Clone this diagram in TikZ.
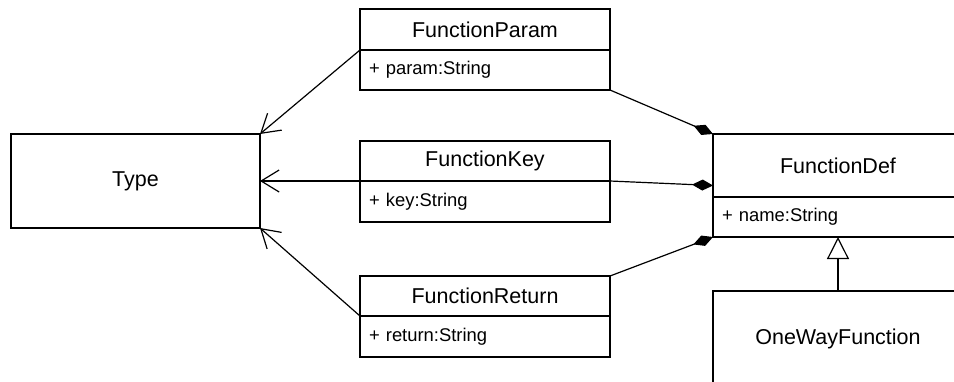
\documentclass[tikz,border=0pt]{standalone}
\usepackage{fontspec}
\setmainfont{Liberation Sans}
\usetikzlibrary{arrows.meta,calc}

\tikzset{
  box/.style={draw=black, line width=1.3pt, fill=white, inner sep=0pt, outer sep=0pt},
  title/.style={box, minimum width=250pt, font=\fontsize{21.5}{25}\selectfont},
  attr/.style={box, minimum width=250pt, text width=232pt, inner xsep=9pt, align=left,
    font=\fontsize{18.4}{22}\selectfont},
  link/.style={draw=black, line width=1.2pt},
  uses/.style={link, -{Straight Barb[length=18pt, width=22pt, line width=1.2pt]}},
  owns/.style={link, -{Diamond[length=21pt, width=11pt, fill=black]}},
  isa/.style={link, -{Triangle[open, length=22pt, width=22pt, fill=white, line width=1.2pt]}},
}

\begin{document}
\begin{tikzpicture}[x=1pt, y=-1pt]
  \clip (0,0) rectangle (954,381);
  \fill[white] (0,0) rectangle (954,381);

  % Type
  \node[title, minimum width=249pt, minimum height=94pt] (type) at (135.5,181) {Type};

  % FunctionParam
  \node[title, minimum height=41pt] (fp) at (485,29.5) {FunctionParam};
  \node[attr, minimum height=40pt, anchor=north] (fpa) at (fp.south) {+ param:String};

  % FunctionKey
  \node[title, minimum height=40pt] (fk) at (485,161) {FunctionKey};
  \node[attr, minimum height=41pt, anchor=north] (fka) at (fk.south) {+ key:String};

  % FunctionReturn
  \node[title, minimum height=40pt] (fr) at (485,296) {FunctionReturn};
  \node[attr, minimum height=41pt, anchor=north] (fra) at (fr.south) {+ return:String};

  % FunctionDef
  \node[title, minimum height=63pt] (fd) at (838,165.5) {FunctionDef};
  \node[attr, minimum height=40pt, anchor=north] (fda) at (fd.south) {+ name:String};
  \coordinate (fdw) at ($(fd.north west)!0.5!(fda.south west)$);

  % OneWayFunction
  \node[title, minimum height=96pt] (ow) at (838,339) {OneWayFunction};

  % references to Type
  \draw[uses] (fp.south west) -- (type.north east);
  \draw[uses] (fk.south west) -- (type.east);
  \draw[uses] (fr.south west) -- (type.south east);

  % composition into FunctionDef
  \draw[owns] (fpa.south east) -- (fd.north west);
  \draw[owns] (fk.south east) -- (fdw);
  \draw[owns] (fr.north east) -- (fda.south west);

  % generalization
  \draw[isa] (ow.north) -- (fda.south);
\end{tikzpicture}
\end{document}
